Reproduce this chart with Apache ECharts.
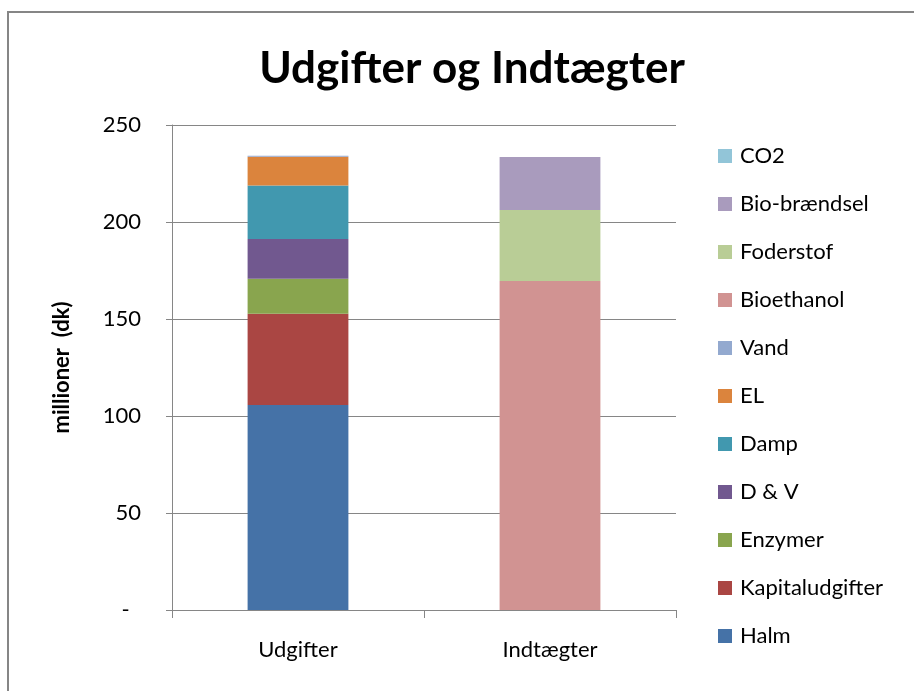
<!DOCTYPE html>
<html>
<head>
<meta charset="utf-8">
<script src="https://cdn.jsdelivr.net/npm/echarts@6/dist/echarts.min.js"></script>
<style>
html,body{margin:0;padding:0;background:#fff;}
#c{width:914px;height:691px;}
</style>
</head>
<body>
<div id="c"></div>
<script>
const categories = ['Udgifter', 'Indtægter'];
const seriesNames = ['Halm', 'Kapitaludgifter', 'Enzymer', 'D & V', 'Damp', 'EL', 'Vand', 'Bioethanol', 'Foderstof', 'Bio-brændsel', 'CO2'];
const halm = [105.7, 0];
const kapitaludgifter = [47.0, 0];
const enzymer = [18.0, 0];
const dv = [20.6, 0];
const damp = [27.5, 0];
const el = [14.8, 0];
const vand = [0.5, 0];
const bioethanol = [0, 169.6];
const foderstof = [0, 36.6];
const biobraendsel = [0, 27.3];
const co2 = [0, 0];
const yTicks = [0, 50, 100, 150, 200, 250];

const values = [halm, kapitaludgifter, enzymer, dv, damp, el, vand, bioethanol, foderstof, biobraendsel, co2];
const colors = ['#4572A7', '#AA4643', '#89A54E', '#71588F', '#4198AF', '#DB843D', '#93A9CF', '#D19392', '#B9CD96', '#A99BBD', '#92C5D8'];
const font = 'Lato, "Open Sans", sans-serif';

const chart = echarts.init(document.getElementById('c'), null, {renderer: 'canvas'});
chart.setOption({
  animation: false,
  backgroundColor: '#fff',
  title: {
    text: 'Udgifter og Indtægter',
    left: 467, top: 42, textAlign: 'center',
    textStyle: {fontFamily: font, fontWeight: 'bold', fontSize: 44, color: '#000'}
  },
  graphic: [{
    type: 'rect', shape: {x: 8, y: 12, width: 1000, height: 1000},
    style: {fill: 'none', stroke: '#868686', lineWidth: 2}, silent: true, z: -1
  }],
  legend: {
    orient: 'vertical', left: 718, top: 144, padding: 0,
    itemWidth: 14, itemHeight: 14, itemGap: 24,
    icon: 'rect',
    data: seriesNames.slice().reverse(),
    textStyle: {fontFamily: font, fontSize: 22, color: '#000', lineHeight: 24, padding: [0, 0, 0, 3]}
  },
  grid: {left: 172, right: 238, top: 125, bottom: 81},
  xAxis: {
    type: 'category', data: categories,
    axisLine: {lineStyle: {color: '#868686', width: 1}},
    axisTick: {show: true, length: 8, lineStyle: {color: '#868686'}},
    axisLabel: {fontFamily: font, fontSize: 22, color: '#000', margin: 29}
  },
  yAxis: {
    type: 'value', min: yTicks[0], max: yTicks[yTicks.length - 1], interval: 50,
    name: 'millioner  (dk)', nameLocation: 'middle', nameGap: 99, nameMoveOverlap: false,
    nameTextStyle: {fontFamily: font, fontSize: 22, fontWeight: 'bold', color: '#000'},
    axisLine: {show: true, lineStyle: {color: '#868686'}},
    axisTick: {show: true, length: 6, lineStyle: {color: '#868686'}},
    splitLine: {lineStyle: {color: '#868686'}},
    axisLabel: {
      fontFamily: font, fontSize: 22, color: '#000', margin: 31,
      formatter: v => v === 0 ? '-  ' : String(v)
    }
  },
  series: seriesNames.map((n, i) => ({
    name: n, type: 'bar', stack: 'total', barWidth: '40%',
    data: values[i], itemStyle: {color: colors[i]}
  }))
});
</script>
</body>
</html>
